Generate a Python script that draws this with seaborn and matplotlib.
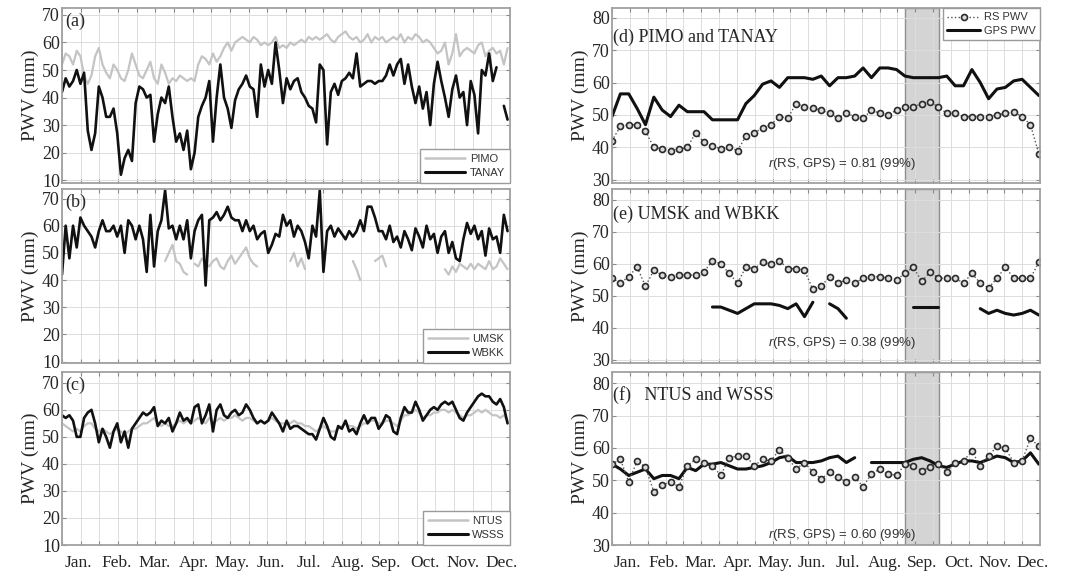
import numpy as np
import pandas as pd
import matplotlib
matplotlib.use("Agg")
import matplotlib.pyplot as plt
import seaborn as sns
from matplotlib.lines import Line2D

nan = np.nan

MONTHS = ["Jan.", "Feb.", "Mar.", "Apr.", "May.", "Jun.", "Jul.", "Aug.", "Sep.", "Oct.", "Nov.", "Dec."]

# ---- daily-ish series (every 3 days) for left panels ----
PIMO = [52, 56, 55, 52, 57, 55, 48, 45, 48, 55,
        58, 52, 49, 47, 52, 50, 47, 46, 50, 56,
        52, 48, 47, 50, 53, 47, 45, 52, 49, 45,
        47, 46, 48, 47, 46, 47, 46, 52, 55, 54,
        52, 56, 53, 55, 58, 60, 57, 60, 61, 62,
        61, 60, 62, 61, 59, 60, 59, 60, 62, 58,
        59, 58, 60, 59, 60, 61, 60, 62, 61, 62,
        61, 62, 63, 61, 60, 62, 63, 64, 62, 61,
        62, 60, 61, 63, 60, 62, 61, 62, 60, 61,
        62, 61, 63, 60, 62, 61, 63, 62, 60, 61,
        60, 58, 56, 57, 60, 52, 56, 63, 55, 57,
        58, 57, 56, 59, 60, 55, 57, 58, 56, 57, 52, 58]
TANAY = [42, 47, 44, 46, 50, 45, 49, 28, 21, 27,
         44, 40, 33, 33, 36, 27, 12, 18, 21, 17,
         38, 44, 43, 40, 41, 24, 34, 40, 38, 44,
         33, 24, 27, 21, 28, 14, 20, 33, 37, 40,
         46, 24, 40, 52, 40, 36, 29, 39, 43, 45,
         48, 44, 43, 33, 52, 44, 50, 45, 60, 50,
         38, 47, 43, 46, 47, 42, 40, 37, 36, 31,
         52, 50, 23, 42, 45, 41, 46, 47, 49, 47,
         56, 44, 45, 46, 46, 45, 46, 46, 48, 52,
         48, 52, 54, 45, 52, 44, 38, 44, 36, 42,
         30, 45, 53, 46, 40, 33, 43, 48, 40, 42,
         30, 46, 41, 27, 50, 48, 56, 46, 51, nan, 37, 32]
UMSK = [nan] * 28 + [47, 50, 53, 47, 46, 43, 42, nan,
        46, 45, 48, 46, 45, 47, 48, 45, 44, 47, 49, 46, 48, 50, 52, 48, 46, 45] + \
       [nan] * 8 + [47, 50, 45, 48, 44] + [nan] * 12 + [47, 44, 40] + [nan] * 3 + \
       [47, 48, 49, 45] + [nan] * 15 + \
       [44, 42, 45, 43, 46, 45, 44, 46, 44, 46, 45, 44, 47, 44, 45, 48, 46, 44]
WBKK = [42, 60, 48, 60, 52, 63, 60, 58, 56, 52,
        58, 62, 58, 58, 60, 56, 60, 50, 62, 60,
        55, 60, 55, 43, 64, 45, 58, 62, 73, 59,
        60, 55, 60, 55, 62, 48, 58, 62, 64, 38,
        62, 63, 65, 62, 64, 67, 63, 62, 62, 58,
        62, 58, 60, 55, 57, 58, 50, 53, 57, 56,
        64, 60, 62, 56, 60, 58, 54, 48, 60, 56,
        73, 43, 58, 60, 56, 59, 57, 55, 58, 56,
        58, 62, 58, 67, 67, 63, 58, 58, 55, 60,
        54, 56, 52, 58, 55, 51, 59, 56, 52, 60,
        55, 57, 50, 56, 58, 50, 54, 48, 47, 55,
        61, 57, 60, 55, 58, 49, 59, 55, 56, 50, 64, 58]
NTUS = [55, 54, 53, 52, 53, 52, 54, 55, 55, 53,
        52, 53, 52, 51, 52, 53, 52, 51, 52, 53,
        53, 54, 55, 55, 56, 57, 55, 54, 55, 54,
        54, 55, 56, 55, 56, 55, 56, 57, 56, 55,
        57, 55, 56, 57, 56, 57, 57, 58, 57, 56,
        57, 57, 56, 55, 56, 55, 56, 57, 56, 55,
        55, 55, 55, 56, 55, 55, 54, 54, 53, 52,
        53, 54, 53, 52, 52, 53, 54, 55, 54, 54,
        53, 54, 55, 55, 56, 56, 55, 55, 56, 56,
        55, 54, 56, 58, 58, 59, 60, 59, 57, 58,
        58, 59, 59, 60, 60, 59, 60, 59, 58, 57,
        58, 58, 59, 60, 59, 60, 59, 58, 58, 57, 58, 56]
WSSS = [58, 57, 58, 56, 50, 50, 57, 59, 60, 55,
        48, 53, 50, 46, 52, 55, 48, 52, 46, 53,
        55, 57, 59, 58, 59, 61, 54, 56, 55, 57,
        52, 55, 59, 56, 57, 55, 61, 62, 55, 58,
        62, 52, 60, 62, 58, 57, 59, 60, 58, 59,
        62, 60, 57, 55, 56, 55, 56, 59, 57, 55,
        52, 56, 53, 54, 54, 53, 52, 51, 51, 49,
        53, 57, 54, 50, 49, 54, 53, 56, 52, 53,
        51, 55, 58, 55, 57, 57, 53, 55, 58, 57,
        52, 51, 57, 61, 59, 59, 63, 60, 56, 58,
        60, 61, 60, 62, 63, 62, 63, 60, 57, 56,
        59, 61, 63, 65, 66, 65, 65, 63, 62, 64, 61, 55]

# ---- weekly series for right panels ----
RS_D = [42, 46.5, 47, 47, 45, 40, 39.5, 39, 39.5, 40,
        44.5, 41.5, 40.5, 39.5, 40, 39, 43.5, 44.5, 46, 47,
        49.5, 49, 53.5, 52.5, 52, 51.5, 50.5, 49, 50.5, 49.5,
        49, 51.5, 50.5, 50, 51.5, 52.5, 52.5, 53.5, 54, 52.5,
        50.5, 50.5, 49.5, 49.5, 49.5, 49.5, 50, 50.5, 51, 49.5, 47, 38]
GPS_D = [49.5, 56.5, 56.5, 52, 47, 55.5, 51.5, 49.5, 53, 51,
         51, 51, 48.5, 48.5, 48.5, 48.5, 53.5, 56, 59.5, 60.5,
         58.5, 61.5, 61.5, 61.5, 61, 62, 59, 61.5, 61.5, 62,
         64.5, 61.5, 64.5, 64.5, 64, 62, 61.5, 61.5, 61.5, 61.5,
         62, 59, 59, 64, 60, 55, 58, 58.5, 60.5, 61, 58.5, 56]
RS_E = [55.5, 54, 56, 59, 53, 58, 56.5, 56, 56.5, 56.5,
        56.5, 57.5, 61, 60, 57, 54, 59, 58.5, 60.5, 60,
        61, 58.5, 58.5, 58, 52, 53, 56, 54, 55, 54,
        55.5, 56, 56, 55.5, 55, 57, 59, 54.5, 57.5, 55.5,
        55.5, 55.5, 54, 57, 54, 52.5, 55.5, 59, 55.5, 55.5, 55.5, 60.5]
GPS_E = [nan] * 12 + [46.5, 46.5, 45.5, 44.5, 46, 47.5, 47.5, 47.5, 47, 46, 47.5, 43.5, 48] + \
        [nan] + [47.5, 46, 43] + [nan] * 7 + [46.5, 46.5, 46.5, 46.5] + [nan] * 4 + \
        [46, 44.5, 45.5, 44.5, 44, 44.5, 45.5, 44]
RS_F = [55, 56.5, 49.5, 56, 54, 46.5, 48.5, 49.5, 48, 54.5,
        56.5, 55.5, 54.5, 51.5, 57, 57.5, 57.5, 54.5, 56.5, 56,
        59.5, 57, 53.5, 55.5, 52.5, 50.5, 52.5, 51, 49.5, 51,
        48, 52, 53.5, 52, 51.5, 55, 54.5, 53, 54, 55,
        52.5, 55.5, 56, 59, 54.5, 57.5, 60.5, 60, 55.5, 56, 63, 60.5]
GPS_F = [55, 53.5, 51.5, 52.5, 53.5, 50.5, 51.5, 51.5, 50.5, 54,
         53, 55, 55, 55.5, 54.5, 53.5, 53.5, 54, 54.5, 55.5,
         57, 57.5, 55.5, 55.5, 55.5, 56, 57, 57.5, 55.5, 57,
         nan, 55.5, 55.5, 55.5, 55.5, 55.5, 56.5, 57, 56, 54.5,
         54, 55, 56, 56, 55.5, 56.5, 57.5, 57, 55.5, 56, 58.5, 55]

R_TEXT = ["0.81", "0.38", "0.60"]
SHADE = (250, 279)

# ---------------------------------------------------------------------------
sns.set_theme(style="white")
plt.rcParams["font.family"] = ["Liberation Serif", "DejaVu Serif"]
plt.rcParams["mathtext.fontset"] = "custom"
plt.rcParams["mathtext.it"] = "Liberation Sans:italic"
plt.rcParams["mathtext.rm"] = "Liberation Sans"

W, H = 1070, 574
fig = plt.figure(figsize=(W / 100, H / 100), dpi=100)


def rect(x0, x1, top, bot):
    return [x0 / W, 1 - bot / H, (x1 - x0) / W, (bot - top) / H]


rows = [(8, 183), (189, 363), (372, 545)]
left_axes = [fig.add_axes(rect(62, 510, t, b)) for t, b in rows]
right_axes = [fig.add_axes(rect(612, 1040, t, b)) for t, b in rows]

days_l = np.arange(len(TANAY)) * 3.0
days_r = np.arange(len(RS_D)) * (364.0 / (len(RS_D) - 1))
half_months = np.arange(24) * 365 / 24
label_pos = 13 + 31.4 * np.arange(12)


def draw(ax, x, y, **kw):
    y = np.asarray(y, float)
    seg = np.cumsum(np.isnan(y))
    df = pd.DataFrame({"x": x, "y": y, "seg": seg}).dropna()
    sns.lineplot(data=df, x="x", y="y", units="seg", estimator=None,
                 ax=ax, legend=False, sort=False, **kw)


def style(ax, ylim, yticks, show_months):
    ax.set_xlim(0, 365)
    ax.set_ylim(*ylim)
    ax.set_yticks(yticks)
    ax.set_xticks(half_months, minor=True)
    ax.set_xticks(label_pos)
    ax.set_xticklabels(MONTHS if show_months else [])
    ax.set_xlabel("")
    ax.set_ylabel("PWV (mm)", fontsize=14, labelpad=2)
    ax.tick_params(axis="x", which="major", length=0, pad=7, labelsize=12.5)
    ax.tick_params(axis="x", which="minor", direction="in", length=3,
                   top=True, bottom=True, color="#8a8a8a", width=0.8)
    ax.tick_params(axis="y", which="major", direction="in", length=3,
                   left=True, right=True, color="#8a8a8a", width=0.8,
                   labelsize=13, pad=1.5)
    ax.set_axisbelow(True)
    ax.grid(which="minor", axis="x", color="#dddddd", lw=0.7)
    ax.grid(which="major", axis="y", color="#dddddd", lw=0.7)
    ax.grid(which="major", axis="x", visible=False)
    for sp in ax.spines.values():
        sp.set_color("#a0a0a0")
        sp.set_linewidth(1.3)


GRAY = "#c4c4c4"
BLACK = "#111111"

left_sets = [
    ("(a)", PIMO, TANAY, "PIMO", "TANAY", (9, 72.5)),
    ("(b)", UMSK, WBKK, "UMSK", "WBKK", (9.5, 73.5)),
    ("(c)", NTUS, WSSS, "NTUS", "WSSS", (10, 74)),
]
for i, (ax, (tag, g, k, gn, kn, yl)) in enumerate(zip(left_axes, left_sets)):
    draw(ax, days_l, g, color=GRAY, lw=1.6)
    draw(ax, days_l, k, color=BLACK, lw=1.9)
    style(ax, yl, np.arange(10, 71, 10), i == 2)
    ax.text(0.008, 0.925, tag, transform=ax.transAxes, fontsize=13,
            ha="left", va="center")
    handles = [Line2D([], [], color=GRAY, lw=1.8), Line2D([], [], color=BLACK, lw=2.2)]
    leg = ax.legend(handles, [gn, kn], loc="lower right", borderaxespad=0,
                    prop={"family": "Liberation Sans", "size": 8},
                    handlelength=3.6, handletextpad=0.4, labelspacing=0.35,
                    borderpad=0.45, fancybox=False, framealpha=1,
                    edgecolor="#9a9a9a", labelcolor="#333333")
    leg.get_frame().set_linewidth(1.0)

right_sets = [
    ("(d) PIMO and TANAY", RS_D, GPS_D, (29, 83), 0.834, 0.11),
    ("(e) UMSK and WBKK", RS_E, GPS_E, (29, 83.4), 0.856, 0.115),
    ("(f)   NTUS and WSSS", RS_F, GPS_F, (30, 83.5), 0.867, 0.06),
]
for i, (ax, (title, rs, gps, yl, ty, ry)) in enumerate(zip(right_axes, right_sets)):
    ax.axvspan(*SHADE, facecolor="#d4d4d4", edgecolor="#8e8e8e", lw=1.0, zorder=0.2)
    draw(ax, days_r, gps, color=BLACK, lw=2.2)
    draw(ax, days_r, rs, color="#555555", lw=1.0, linestyle=":",
         marker="o", markersize=4.3, markerfacecolor="#dadada",
         markeredgecolor="#2a2a2a", markeredgewidth=1.2)
    style(ax, yl, np.arange(30, 81, 10), i == 2)
    ax.text(0.003, ty, title, transform=ax.transAxes, fontsize=13,
            ha="left", va="center")
    ax.text(0.537, ry, r"$\it{r}$(RS, GPS) = " + R_TEXT[i] + " (99%)",
            transform=ax.transAxes, fontsize=9.5, ha="center", va="center",
            color="#333333", family="Liberation Sans")
    if i == 0:
        handles = [Line2D([], [], color="#555555", lw=1.0, linestyle=":", marker="o",
                          markersize=4.3, markerfacecolor="#dadada",
                          markeredgecolor="#2a2a2a", markeredgewidth=1.2),
                   Line2D([], [], color=BLACK, lw=2.2)]
        leg = ax.legend(handles, ["RS PWV", "GPS PWV"], loc="upper right",
                        borderaxespad=0, prop={"family": "Liberation Sans", "size": 8},
                        handlelength=3.0, handletextpad=0.3, labelspacing=0.3,
                        borderpad=0.4, fancybox=False, framealpha=1,
                        edgecolor="#9a9a9a", labelcolor="#333333")
        leg.get_frame().set_linewidth(1.0)

fig.savefig("out.png", dpi=100)
